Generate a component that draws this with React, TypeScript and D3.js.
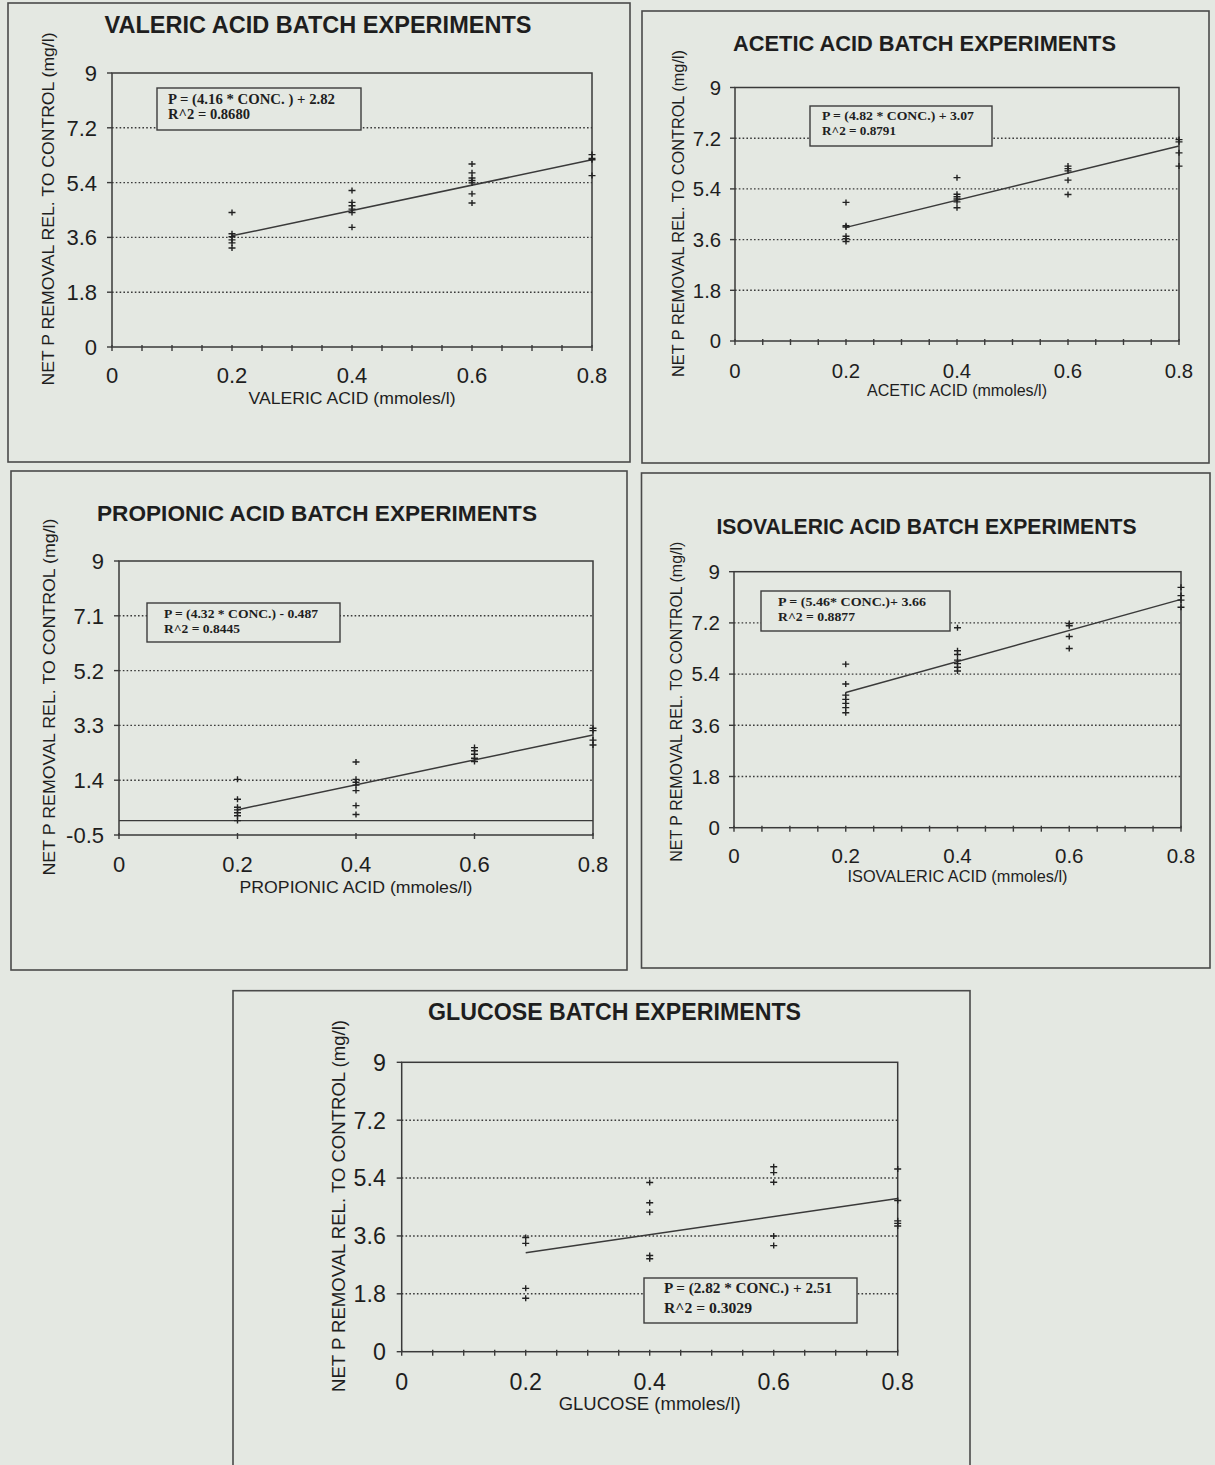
import React from 'react';
import * as d3 from 'd3';

// ---------- DATA ----------
const CONCENTRATIONS = [0.2, 0.4, 0.6, 0.8];
const X_TICKS = [0, 0.2, 0.4, 0.6, 0.8];
const Y_TICKS_STD = [0, 1.8, 3.6, 5.4, 7.2, 9];
const Y_TICKS_PROPIONIC = [-0.5, 1.4, 3.3, 5.2, 7.1, 9];

// replicate values at each concentration (0.2, 0.4, 0.6, 0.8)
const VALERIC = [
  [4.42, 3.72, 3.62, 3.52, 3.42, 3.25],
  [5.14, 4.75, 4.64, 4.53, 4.42, 3.93],
  [6.01, 5.72, 5.55, 5.47, 5.39, 5.03, 4.73],
  [6.32, 6.19, 6.15, 5.63],
];
const ACETIC = [
  [4.92, 4.09, 4.05, 3.72, 3.63, 3.53],
  [5.8, 5.21, 5.12, 5.04, 4.94, 4.73],
  [6.21, 6.12, 6.04, 5.71, 5.2],
  [7.15, 7.07, 6.68, 6.21],
];
const PROPIONIC = [
  [1.43, 0.74, 0.46, 0.37, 0.27, 0.17, 0.0],
  [2.03, 1.43, 1.33, 1.23, 1.04, 0.52, 0.21],
  [2.53, 2.42, 2.3, 2.16, 2.05],
  [3.2, 3.12, 2.79, 2.62],
];
const ISOVALERIC = [
  [5.75, 5.05, 4.66, 4.51, 4.37, 4.22, 4.04],
  [7.03, 6.22, 6.09, 5.89, 5.77, 5.64, 5.51],
  [7.18, 7.1, 6.72, 6.3],
  [8.45, 8.16, 8.0, 7.75],
];
const GLUCOSE = [
  [3.55, 3.37, 1.97, 1.66],
  [5.26, 4.63, 4.34, 2.99, 2.89],
  [5.75, 5.57, 5.27, 3.6, 3.3],
  [5.68, 4.7, 4.07, 3.99, 3.91],
];

// regression slope / intercept
const FIT_VALERIC = [4.16, 2.82];
const FIT_ACETIC = [4.82, 3.07];
const FIT_PROPIONIC = [4.32, -0.487];
const FIT_ISOVALERIC = [5.46, 3.66];
const FIT_GLUCOSE = [2.82, 2.51];

const TITLES = [
  'VALERIC ACID BATCH EXPERIMENTS',
  'ACETIC ACID BATCH EXPERIMENTS',
  'PROPIONIC ACID BATCH EXPERIMENTS',
  'ISOVALERIC ACID BATCH EXPERIMENTS',
  'GLUCOSE BATCH EXPERIMENTS',
];
const X_LABELS = [
  'VALERIC ACID (mmoles/l)',
  'ACETIC ACID (mmoles/l)',
  'PROPIONIC ACID (mmoles/l)',
  'ISOVALERIC ACID (mmoles/l)',
  'GLUCOSE (mmoles/l)',
];
const Y_LABEL = 'NET P REMOVAL REL. TO CONTROL (mg/l)';
const EQUATIONS = [
  'P = (4.16 * CONC. ) + 2.82',
  'P = (4.82 * CONC.) + 3.07',
  'P = (4.32 * CONC.) - 0.487',
  'P = (5.46* CONC.)+ 3.66',
  'P = (2.82 * CONC.) + 2.51',
];
const R2_LABELS = ['R^2 = 0.8680', 'R^2 = 0.8791', 'R^2 = 0.8445', 'R^2 = 0.8877', 'R^2 = 0.3029'];

// ---------- LAYOUT ----------
// eq: [x0, y0, x1, y1, textX, line1Y, line2Y, line1W, line2W, fontSize]
const LAYOUT = [
  { box: [8, 3, 630, 462], plot: [112, 592, 73, 347], title: [318, 33, 427, 23], k: 1,
    yl: [53.5, 209, 353], xt: 36, xl: [404, 207], eq: [157, 88, 361, 130, 168, 104, 119, 167, 82, 14], minor: true },
  { box: [642, 11, 1209, 463], plot: [735, 1179, 87.5, 341], title: [924.5, 51, 383, 21.5], k: 0.925,
    yl: [684, 213.5, 327], xt: 37, xl: [396, 180], eq: [810, 106, 992, 146, 822, 120, 135, 152, 74, 13], minor: true },
  { box: [11, 471, 627, 970], plot: [119, 593, 561, 835], title: [317, 521, 440, 22], k: 1,
    yl: [55, 697, 357], xt: 37, xl: [893, 233], eq: [147, 603, 340, 642, 164, 617.5, 633, 154, 76, 13.5], minor: false },
  { box: [641.5, 473, 1210, 968], plot: [734, 1181, 571.7, 827.7], title: [926.5, 534, 420, 21.5], k: 0.934,
    yl: [682, 701.7, 320], xt: 35, xl: [882, 220], eq: [761, 591, 950, 631, 778, 606, 620.5, 148, 77, 13.5], minor: true },
  { box: [233, 990.7, 970, 1475], plot: [401.7, 897.7, 1062.3, 1351.7], title: [614.5, 1020, 373, 23], k: 1.056,
    yl: [345, 1206, 372], xt: 38, xl: [1410, 182], eq: [644, 1278, 857, 1323, 664, 1293, 1313, 168, 88, 15], minor: true },
];

const PANEL_DATA = [
  { values: VALERIC, fit: FIT_VALERIC, yTicks: Y_TICKS_STD, yDomain: [0, 9], zeroLine: false },
  { values: ACETIC, fit: FIT_ACETIC, yTicks: Y_TICKS_STD, yDomain: [0, 9], zeroLine: false },
  { values: PROPIONIC, fit: FIT_PROPIONIC, yTicks: Y_TICKS_PROPIONIC, yDomain: [-0.5, 9], zeroLine: true },
  { values: ISOVALERIC, fit: FIT_ISOVALERIC, yTicks: Y_TICKS_STD, yDomain: [0, 9], zeroLine: false },
  { values: GLUCOSE, fit: FIT_GLUCOSE, yTicks: Y_TICKS_STD, yDomain: [0, 9], zeroLine: false },
];

const BG = '#e4e8e2';
const INK = '#1e1e1e';
const LINE = '#3a3a3a';
const SANS = '"Liberation Sans", Arial, Helvetica, sans-serif';
const SERIF = '"Liberation Serif", "Times New Roman", serif';

function Panel({ i }: { i: number }) {
  const L = LAYOUT[i];
  const D = PANEL_DATA[i];
  const [x0, x1, yt, yb] = L.plot;
  const k = L.k;
  const x = d3.scaleLinear().domain([0, 0.8]).range([x0, x1]);
  const y = d3.scaleLinear().domain(D.yDomain).range([yb, yt]);
  const minorTicks = L.minor ? d3.range(0, 0.8001, 0.05) : X_TICKS;
  const [slope, icpt] = D.fit;
  const fitLine = d3.line<number>().x((c) => x(c)).y((c) => y(slope * c + icpt));
  const [bx0, by0, bx1, by1] = L.box;
  const [ex0, ey0, ex1, ey1, etx, el1, el2, ew1, ew2, efs] = L.eq;
  const tickFont = 22 * k;

  return (
    <g>
      <rect x={bx0} y={by0} width={bx1 - bx0} height={by1 - by0} fill="none" stroke="#4a4a4a" strokeWidth={1.6} />
      <text x={L.title[0]} y={L.title[1]} textAnchor="middle" fontFamily={SANS} fontWeight="bold"
        fontSize={L.title[3]} fill={INK} textLength={L.title[2]} lengthAdjust="spacingAndGlyphs">{TITLES[i]}</text>

      {/* gridlines */}
      {D.yTicks.filter((t) => t !== D.yDomain[0] && t !== D.yDomain[1]).map((t) => (
        <line key={'g' + t} x1={x0} x2={x1} y1={y(t)} y2={y(t)} stroke={LINE} strokeWidth={1.4} strokeDasharray="1.6,2.2" />
      ))}
      {D.zeroLine && <line x1={x0} x2={x1} y1={y(0)} y2={y(0)} stroke={LINE} strokeWidth={1.4} />}

      {/* frame */}
      <rect x={x0} y={yt} width={x1 - x0} height={yb - yt} fill="none" stroke={LINE} strokeWidth={1.5} />

      {/* y ticks */}
      {D.yTicks.map((t) => (
        <g key={'y' + t}>
          <line x1={x0 - 5} x2={x0} y1={y(t)} y2={y(t)} stroke={LINE} strokeWidth={1.4} />
          <text x={x0 - 15 * k} y={y(t)} dy="0.36em" textAnchor="end" fontFamily={SANS} fontSize={tickFont} fill={INK}>{String(t)}</text>
        </g>
      ))}
      {/* x ticks */}
      {minorTicks.map((t, j) => (
        <line key={'m' + j} x1={x(t)} x2={x(t)} y1={yb - 2} y2={yb + 4} stroke={LINE} strokeWidth={1.4} />
      ))}
      {X_TICKS.map((t) => (
        <text key={'x' + t} x={x(t)} y={yb + L.xt} textAnchor="middle" fontFamily={SANS} fontSize={tickFont} fill={INK}>{String(t)}</text>
      ))}

      {/* axis titles */}
      <text x={(x0 + x1) / 2} y={L.xl[0]} textAnchor="middle" fontFamily={SANS} fontSize={17 * k} fill={INK}
        textLength={L.xl[1]} lengthAdjust="spacingAndGlyphs">{X_LABELS[i]}</text>
      <text transform={`translate(${L.yl[0]},${L.yl[1]}) rotate(-90)`} textAnchor="middle" fontFamily={SANS}
        fontSize={17 * k} fill={INK} textLength={L.yl[2]} lengthAdjust="spacingAndGlyphs">{Y_LABEL}</text>

      {/* regression line */}
      <path d={fitLine([CONCENTRATIONS[0], CONCENTRATIONS[CONCENTRATIONS.length - 1]]) || ''} fill="none" stroke={LINE} strokeWidth={1.5} />

      {/* points */}
      {D.values.map((vals, ci) =>
        vals.map((v, vi) => {
          const px = x(CONCENTRATIONS[ci]);
          const py = y(v);
          return <path key={ci + '-' + vi} d={`M${px - 3.5},${py}h7M${px},${py - 3}v6`} stroke="#222" strokeWidth={1.4} />;
        })
      )}

      {/* equation box */}
      <rect x={ex0} y={ey0} width={ex1 - ex0} height={ey1 - ey0} fill={BG} stroke="#3c3c3c" strokeWidth={1.4} />
      <text x={etx} y={el1} fontFamily={SERIF} fontWeight="bold" fontSize={efs} fill={INK}
        textLength={ew1} lengthAdjust="spacingAndGlyphs">{EQUATIONS[i]}</text>
      <text x={etx} y={el2} fontFamily={SERIF} fontWeight="bold" fontSize={efs} fill={INK}
        textLength={ew2} lengthAdjust="spacingAndGlyphs">{R2_LABELS[i]}</text>
    </g>
  );
}

export default function App() {
  return (
    <svg width={1215} height={1465} style={{ position: 'absolute', left: 0, top: 0, display: 'block' }}>
      <rect x={0} y={0} width={1215} height={1465} fill={BG} />
      {LAYOUT.map((_, i) => (
        <Panel key={i} i={i} />
      ))}
    </svg>
  );
}
